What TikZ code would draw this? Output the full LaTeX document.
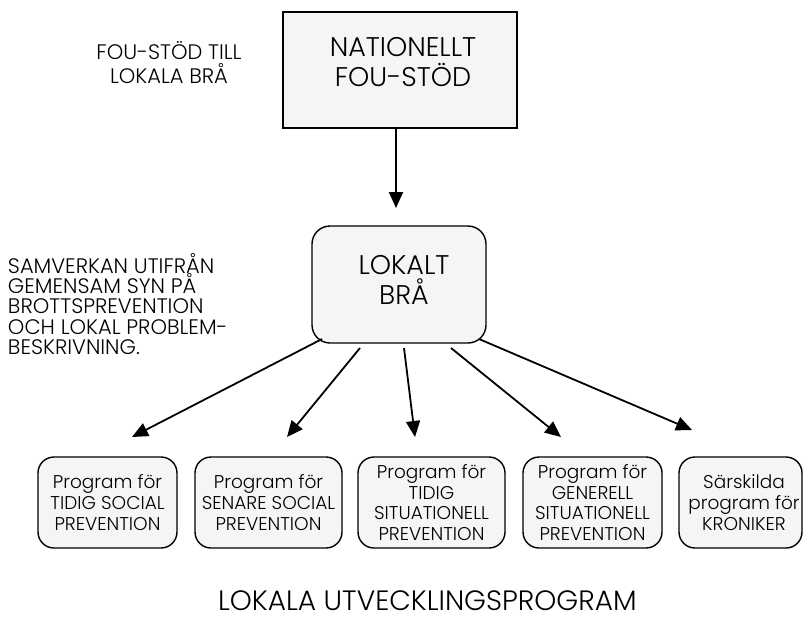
\documentclass[tikz,border=0pt]{standalone}
\usepackage{fontspec}
\setmainfont{Poppins}[UprightFont=* Light]
\usetikzlibrary{arrows.meta,calc}
\definecolor{boxgray}{HTML}{F5F5F5}

\begin{document}
\begin{tikzpicture}[x=1pt,y=-1pt,
  every node/.style={inner sep=0pt, outer sep=0pt},
  plainbox/.style={draw=black, line width=1.8pt, fill=boxgray},
  roundbox/.style={draw=black, line width=1.4pt, fill=boxgray, rounded corners=16pt},
  bigtext/.style={font=\fontsize{27}{29.5}\selectfont, align=center},
  sidetext/.style={font=\fontsize{21}{24}\selectfont},
  progtext/.style={font=\fontsize{18.5}{21}\selectfont, align=center},
  progbox/.style={roundbox, minimum height=91pt},
  flow/.style={line width=1.8pt, -{Triangle[length=16pt,width=14pt]}},
]
\useasboundingbox (0,0) rectangle (808,616);

% national support box
\node[plainbox, minimum width=234pt, minimum height=116pt] (nat) at (400,70) {};
\node[bigtext] (natlbl) at (403,62) {NATIONELLT\\FOU-STÖD};
\node[sidetext, align=center] (fou) at (169,63) {FOU-STÖD TILL\\LOKALA BRÅ};

% local council
\node[roundbox, minimum width=174pt, minimum height=117pt, rounded corners=18pt] (lok) at (399,284.5) {};
\node[bigtext, font=\fontsize{27}{30}\selectfont] (loklbl) at (404,280) {LOKALT\\BRÅ};
\node[sidetext, align=left, anchor=west, font=\fontsize{21}{20.3}\selectfont] (sam) at (8,304)
  {SAMVERKAN UTIFRÅN\\GEMENSAM SYN PÅ\\BROTTSPREVENTION\\OCH LOKAL PROBLEM-\\BESKRIVNING.};

% programme boxes
\node[progbox, minimum width=139pt] (b1) at (107.5,502.5) {};
\node[progbox, minimum width=147pt] (b2) at (268.5,502.5) {};
\node[progbox, minimum width=147pt] (b3) at (431.5,502.5) {};
\node[progbox, minimum width=139pt] (b4) at (592.5,502.5) {};
\node[progbox, minimum width=123pt] (b5) at (740.5,502.5) {};
\node[progtext] (b1t) at (b1.center) {Program för\\TIDIG SOCIAL\\PREVENTION};
\node[progtext] (b2t) at (b2.center) {Program för\\SENARE SOCIAL\\PREVENTION};
\node[progtext, font=\fontsize{18.5}{20.5}\selectfont] (b3t) at (b3.center) {Program för\\TIDIG\\SITUATIONELL\\PREVENTION};
\node[progtext, font=\fontsize{18.5}{20.5}\selectfont] (b4t) at (b4.center) {Program för\\GENERELL\\SITUATIONELL\\PREVENTION};
\node[progtext] (b5t) at (744,502.5) {Särskilda\\program för\\KRONIKER};

\node[anchor=base west, text depth=0pt, font=\fontsize{28}{30}\selectfont] (title) at (218,610) {LOKALA UTVECKLINGSPROGRAM};

% connectors
\coordinate (t0) at (396,208);
\draw[flow] (nat.south -| t0) -- (t0);

\coordinate (s1) at (322,339);
\coordinate (s2) at (360,348);
\coordinate (s3) at (404,348);
\coordinate (s4) at (451,348);
\coordinate (s5) at (479,339);
\coordinate (e1) at (132,437);
\coordinate (e2) at (287,437);
\coordinate (e3) at (415,437);
\coordinate (e4) at (561,437);
\coordinate (e5) at (692,430);
\foreach \i in {1,...,5} {\draw[flow] (s\i) -- (e\i);}
\end{tikzpicture}
\end{document}
